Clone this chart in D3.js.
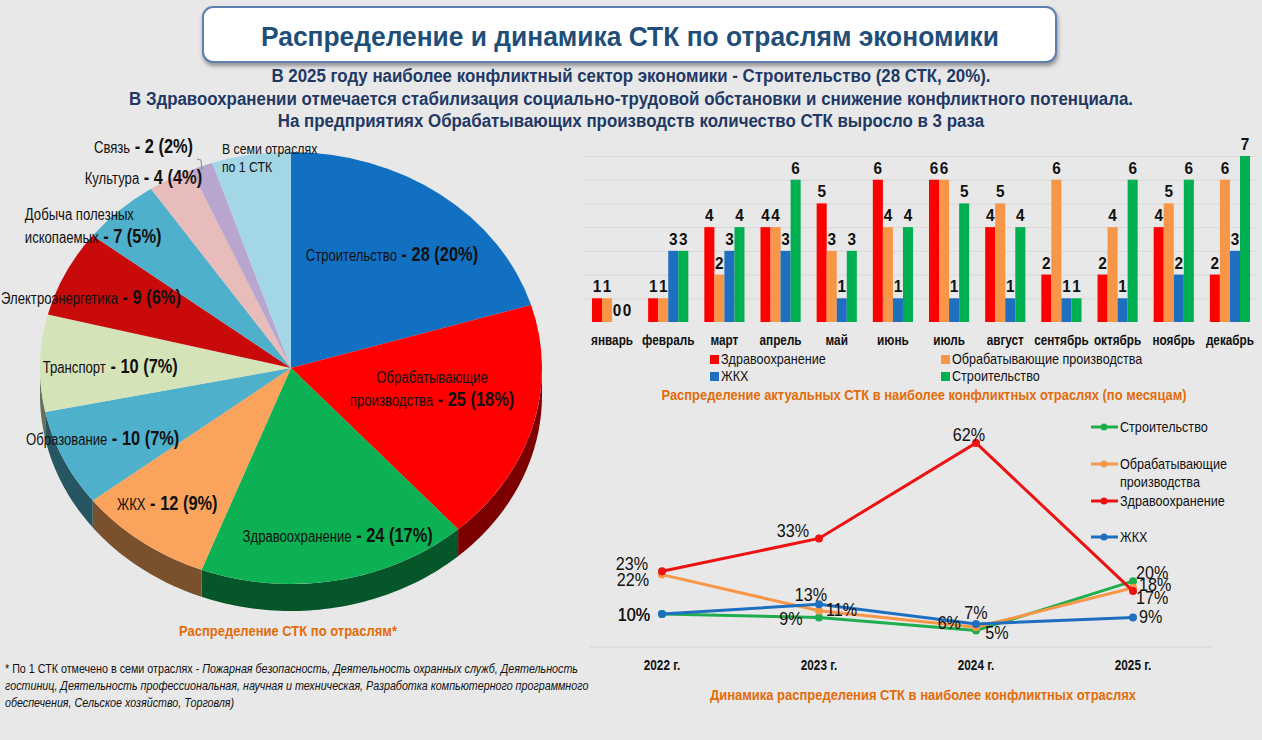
<!DOCTYPE html>
<html>
<head>
<meta charset="utf-8">
<script src="https://cdn.jsdelivr.net/npm/d3@7"></script>
<style>
body { margin: 0; background: #e8e8e8; }
svg { display: block; }
text { font-family: 'Liberation Sans', Arial, sans-serif; }
</style>
</head>
<body>
<svg id="chart" width="1262" height="740"></svg>
<script>
// ---- pie: distribution by sector
const pieCategories = ["Строительство", "Обрабатывающие производства", "Здравоохранение", "ЖКХ", "Образование",
    "Транспорт", "Электроэнергетика", "Добыча полезных ископаемых", "Культура", "Связь", "В семи отраслях по 1 СТК"];
const pieValues = [28, 25, 24, 12, 10, 10, 9, 7, 4, 2, 7];
const piePercents = [20, 18, 17, 9, 7, 7, 6, 5, 4, 2, null];
const pieColors = ["#1170c1", "#fe0000", "#0bb153", "#f9a35c", "#4fb0cb", "#d5e3b9", "#c80a0a", "#4fb0cb", "#e8bcbb", "#b9a6cf", "#a3d7e6"];

// ---- bars: by month
const months = ["январь", "февраль", "март", "апрель", "май", "июнь", "июль", "август", "сентябрь", "октябрь", "ноябрь", "декабрь"];
const barSeries = ["Здравоохранение", "Обрабатывающие производства", "ЖКХ", "Строительство"];
const barHealth = [1, 1, 4, 4, 5, 6, 6, 4, 2, 2, 4, 2];
const barManuf = [1, 1, 2, 4, 3, 4, 6, 5, 6, 4, 5, 6];
const barHousing = [0, 3, 3, 3, 1, 1, 1, 1, 1, 1, 2, 3];
const barConstruction = [0, 3, 4, 6, 3, 4, 5, 4, 1, 6, 6, 7];
const barColors = ["#ff0000", "#f79646", "#1f6fc0", "#00b050"];

// ---- lines: dynamics by year (%)
const years = ["2022 г.", "2023 г.", "2024 г.", "2025 г."];
const lineSeries = ["Строительство", "Обрабатывающие производства", "Здравоохранение", "ЖКХ"];
const lineConstruction = [10, 9, 5, 20];
const lineManuf = [22, 11, 6, 18];
const lineHealth = [23, 33, 62, 17];
const lineHousing = [10, 13, 7, 9];
const lineColors = ["#1fae4f", "#f79646", "#ee1111", "#1f6fc0"];

const svg = d3.select("#chart");
const ORANGE = "#e36c0a";

// squeeze glyphs horizontally (no narrow font installed)
function squeeze(sel, f) {
    sel.each(function () {
        const kids = this.querySelectorAll("tspan");
        const targets = kids.length ? Array.from(kids) : [this];
        targets.forEach(el => {
            const w = el.getComputedTextLength();
            el.setAttribute("textLength", w * f);
            el.setAttribute("lengthAdjust", "spacingAndGlyphs");
        });
    });
}
function fitWidth(sel, width) {
    const el = sel.node();
    const kids = el.querySelectorAll("tspan");
    const w = kids.length ? d3.sum(Array.from(kids), k => k.getComputedTextLength()) : el.getComputedTextLength();
    return width / w;
}

// background + header
svg.append("rect").attr("width", 1262).attr("height", 740).attr("fill", "#e8e8e8");
const defs = svg.append("defs");
const sh = defs.append("filter").attr("id", "shadow").attr("x", "-5%").attr("y", "-20%").attr("width", "110%").attr("height", "160%");
sh.append("feDropShadow").attr("dx", 1).attr("dy", 3).attr("stdDeviation", 2).attr("flood-color", "#555").attr("flood-opacity", 0.6);

svg.append("rect")
    .attr("x", 203).attr("y", 7).attr("width", 853).attr("height", 55).attr("rx", 10)
    .attr("fill", "#fff").attr("stroke", "#5b7fb0").attr("stroke-width", 2)
    .attr("filter", "url(#shadow)");
const title = svg.append("text")
    .attr("x", 630).attr("y", 46).attr("text-anchor", "middle")
    .attr("font-size", 27).attr("font-weight", "bold").attr("fill", "#1f4e79")
    .text("Распределение и динамика СТК по отраслям экономики");
squeeze(title, fitWidth(title, 738));

const subtitle = [
    "В 2025 году наиболее конфликтный сектор экономики - Строительство (28 СТК, 20%).",
    "В Здравоохранении отмечается стабилизация социально-трудовой обстановки и снижение конфликтного потенциала.",
    "На предприятиях Обрабатывающих производств количество СТК выросло в 3 раза"
];
const sub = svg.append("g").selectAll("text").data(subtitle).join("text")
    .attr("x", 631).attr("y", (d, i) => 82 + i * 22.5).attr("text-anchor", "middle")
    .attr("font-size", 18).attr("font-weight", "bold").attr("fill", "#1f3864")
    .text(d => d);
squeeze(sub, fitWidth(sub.filter((d, i) => i === 1), 1004));

// ================= PIE =================
const cx = 291, cy = 368, rx = 251, ry = 216, depth = 27;
const arcs = d3.pie().sort(null).value(d => d)(pieValues);
const pt = (a, dy = 0) => [cx + rx * Math.sin(a), cy - ry * Math.cos(a) + dy];

function sidePath(a0, a1) {
    const n = Math.max(2, Math.ceil((a1 - a0) / 0.02));
    const top = [], bot = [];
    for (let i = 0; i <= n; i++) {
        const a = a0 + (a1 - a0) * i / n;
        top.push(pt(a));
        bot.push(pt(a, depth));
    }
    bot.reverse();
    return "M" + top.concat(bot).map(p => p.join(",")).join("L") + "Z";
}

const pieG = svg.append("g");
pieG.selectAll("path.side").data(arcs.filter(d => d.endAngle > Math.PI / 2 && d.startAngle < Math.PI * 1.5))
    .join("path")
    .attr("class", "side")
    .attr("d", d => sidePath(Math.max(d.startAngle, Math.PI / 2), Math.min(d.endAngle, Math.PI * 1.5)))
    .attr("fill", d => d3.color(pieColors[d.index]).darker(2));

const arcGen = d3.arc().innerRadius(0).outerRadius(rx);
pieG.append("g")
    .attr("transform", `translate(${cx},${cy}) scale(1,${ry / rx})`)
    .selectAll("path").data(arcs).join("path")
    .attr("d", arcGen)
    .attr("fill", d => pieColors[d.index]);

// label placement: radius factor, angle shift (deg), anchor
const pieLabelPlace = [
    {k: 0.66, da: 1}, {k: 0.57, da: -6}, {k: 0.80, da: -3}, {k: 0.80, da: 1.5}, {k: 0.82, da: 1},
    {k: 0.72, da: -1}, {k: 0.86, da: -4}, {k: 1.25, da: -15, anchor: "start"}, {k: 1.06, da: -5},
    {k: 1.18, da: -9}, {k: 1.015, da: -6.6, anchor: "start"}
];
const pieLabelLines = [
    ["Строительство"], ["Обрабатывающие", "производства"], ["Здравоохранение"], ["ЖКХ"], ["Образование"],
    ["Транспорт"], ["Электроэнергетика"], ["Добыча полезных", "ископаемых"], ["Культура"], ["Связь"],
    ["В семи отраслях", "по 1 СТК"]
];
const labelG = svg.append("g");
arcs.forEach((d, i) => {
    const place = pieLabelPlace[i];
    const mid = (d.startAngle + d.endAngle) / 2 + place.da * Math.PI / 180;
    const x = cx + rx * place.k * Math.sin(mid);
    const y = cy - ry * place.k * Math.cos(mid);
    const lines = pieLabelLines[i];
    const lh = piePercents[i] === null ? 18 : 23;
    const y0 = y - (lines.length - 1) * lh / 2 + 6;
    const t = labelG.append("text").attr("text-anchor", place.anchor || "middle").attr("fill", "#111");
    lines.forEach((ln, j) => {
        t.append("tspan").attr("x", x).attr("y", y0 + j * lh)
            .attr("font-size", piePercents[i] === null ? 15 : 16).text(ln);
    });
    if (piePercents[i] !== null) {
        t.append("tspan").attr("font-size", 20).attr("font-weight", "bold")
            .text(` - ${pieValues[i]} (${piePercents[i]}%)`);
    }
    squeeze(t, 0.82);
});
// little leader for the tiny slice
labelG.append("path").attr("d", "M197,159 L201,160 L202,170").attr("fill", "none").attr("stroke", "#888").attr("stroke-width", 1);

const pieTitle = svg.append("text").attr("x", 288).attr("y", 636).attr("text-anchor", "middle")
    .attr("font-size", 15).attr("font-weight", "bold").attr("fill", ORANGE)
    .text("Распределение СТК по отраслям*");
squeeze(pieTitle, fitWidth(pieTitle, 218));

const foot = svg.append("text").attr("font-size", 13).attr("fill", "#111");
foot.append("tspan").attr("x", 5).attr("y", 673).text("* По 1 СТК отмечено в семи отраслях - ");
foot.append("tspan").attr("font-style", "italic").text("Пожарная безопасность, Деятельность охранных служб, Деятельность");
foot.append("tspan").attr("x", 5).attr("y", 690).attr("font-style", "italic")
    .text("гостиниц, Деятельность профессиональная, научная и техническая, Разработка компьютерного программного");
foot.append("tspan").attr("x", 5).attr("y", 707).attr("font-style", "italic")
    .text("обеспечения, Сельское хозяйство, Торговля)");
{
    const ts = foot.selectAll("tspan").nodes();
    const f = 573 / (ts[0].getComputedTextLength() + ts[1].getComputedTextLength());
    squeeze(foot, f);
}

// ================= BARS =================
const barData = [barHealth, barManuf, barHousing, barConstruction];
const x0 = d3.scaleBand().domain(months).range([584, 1258]).paddingInner(0.285).paddingOuter(0.142);
const x1 = d3.scaleBand().domain(d3.range(4)).range([0, x0.bandwidth()]);
const yB = d3.scaleLinear().domain([0, 7]).range([322, 156]);

svg.append("g").selectAll("line").data(d3.range(1, 8)).join("line")
    .attr("x1", 584).attr("x2", 1258)
    .attr("y1", d => yB(d) + 0.5).attr("y2", d => yB(d) + 0.5)
    .attr("stroke", "#d9d9d9").attr("stroke-width", 1);

const barG = svg.append("g");
months.forEach((m, mi) => {
    const g = barG.append("g").attr("transform", `translate(${x0(m)},0)`);
    const vals = barData.map(s => s[mi]);
    g.selectAll("rect").data(vals).join("rect")
        .attr("x", (d, i) => x1(i)).attr("width", x1.bandwidth())
        .attr("y", d => yB(d)).attr("height", d => yB(0) - yB(d))
        .attr("fill", (d, i) => barColors[i]);
    const lbl = g.selectAll("text").data(vals).join("text")
        .attr("x", (d, i) => x1(i) + x1.bandwidth() / 2)
        .attr("y", d => yB(d) - 6)
        .attr("text-anchor", "middle").attr("font-size", 17).attr("font-weight", "bold").attr("fill", "#111")
        .text(d => d);
    squeeze(lbl, 0.9);
});
const monthLbl = svg.append("g").selectAll("text").data(months).join("text")
    .attr("x", d => x0(d) + x0.bandwidth() / 2).attr("y", 345)
    .attr("text-anchor", "middle").attr("font-size", 14).attr("font-weight", "bold").attr("fill", "#111")
    .text(d => d);
squeeze(monthLbl, 0.84);

const barLegendPos = [[710, 355], [941, 355], [710, 372], [941, 372]];
const bl = svg.append("g").selectAll("g").data(barSeries).join("g")
    .attr("transform", (d, i) => `translate(${barLegendPos[i][0]},${barLegendPos[i][1]})`);
bl.append("rect").attr("width", 9).attr("height", 9).attr("fill", (d, i) => barColors[i]);
squeeze(bl.append("text").attr("x", 11).attr("y", 9).attr("font-size", 15).attr("fill", "#111").text(d => d), 0.84);

const barTitle = svg.append("text").attr("x", 924).attr("y", 400).attr("text-anchor", "middle")
    .attr("font-size", 15).attr("font-weight", "bold").attr("fill", ORANGE)
    .text("Распределение актуальных СТК в наиболее конфликтных отраслях (по месяцам)");
squeeze(barTitle, fitWidth(barTitle, 525));

// ================= LINES =================
const lineData = [lineConstruction, lineManuf, lineHealth, lineHousing];
const xL = d3.scalePoint().domain(years).range([662, 1133]);
const yL = d3.scaleLinear().domain([0, 62]).range([647, 443]);

svg.append("line").attr("x1", 590).attr("x2", 1211).attr("y1", yL(0)).attr("y2", yL(0))
    .attr("stroke", "#d2d2d2").attr("stroke-width", 1);
const yearLbl = svg.append("g").selectAll("text").data(years).join("text")
    .attr("x", d => xL(d)).attr("y", 670).attr("text-anchor", "middle")
    .attr("font-size", 14).attr("font-weight", "bold").attr("fill", "#111")
    .text(d => d);
squeeze(yearLbl, 0.84);

const line = d3.line().x((d, i) => xL(years[i])).y(d => yL(d));
const lineG = svg.append("g");
lineData.forEach((s, si) => {
    lineG.append("path").datum(s).attr("d", line)
        .attr("fill", "none").attr("stroke", lineColors[si]).attr("stroke-width", 3);
    lineG.selectAll(null).data(s).join("circle")
        .attr("cx", (d, i) => xL(years[i])).attr("cy", d => yL(d)).attr("r", 4)
        .attr("fill", lineColors[si]);
});

// label offsets [dx, dy, anchor] per series / point
const lineLabelPlace = [
    [[-12, 7, "end"], [-28, 8, "middle"], [21, 8, "middle"], [3, -2, "start"]],
    [[-13, 11, "end"], [7, 5, "start"], [-15, 2, "end"], [6, 3, "start"]],
    [[-14, -1, "end"], [-26, -1, "middle"], [-7, -2, "middle"], [3, 13, "start"]],
    [[-12, 7, "end"], [-8, -3, "middle"], [0, -5, "middle"], [6, 6, "start"]]
];
lineData.forEach((s, si) => {
    const t = lineG.selectAll(null).data(s).join("text")
        .attr("x", (d, i) => xL(years[i]) + lineLabelPlace[si][i][0])
        .attr("y", (d, i) => yL(d) + lineLabelPlace[si][i][1])
        .attr("text-anchor", (d, i) => lineLabelPlace[si][i][2])
        .attr("font-size", 19).attr("fill", "#111")
        .text(d => d + "%");
    squeeze(t, 0.85);
});

const lineLegendY = [427, 464, 501, 537];
const lineLegendLines = [["Строительство"], ["Обрабатывающие", "производства"], ["Здравоохранение"], ["ЖКХ"]];
const ll = svg.append("g").selectAll("g").data(lineSeries).join("g")
    .attr("transform", (d, i) => `translate(1091,${lineLegendY[i]})`);
ll.append("line").attr("x1", 0).attr("x2", 27).attr("stroke", (d, i) => lineColors[i]).attr("stroke-width", 3);
ll.append("circle").attr("cx", 13).attr("r", 3.5).attr("fill", (d, i) => lineColors[i]);
const llText = ll.append("text").attr("font-size", 15).attr("fill", "#111")
    .each(function (d, i) {
        lineLegendLines[i].forEach((t, j) => {
            d3.select(this).append("tspan").attr("x", 29).attr("y", 5 + j * 18).text(t);
        });
    });
squeeze(llText, 0.84);

const lineTitle = svg.append("text").attr("x", 923).attr("y", 700).attr("text-anchor", "middle")
    .attr("font-size", 15).attr("font-weight", "bold").attr("fill", ORANGE)
    .text("Динамика распределения СТК в наиболее конфликтных отраслях");
squeeze(lineTitle, fitWidth(lineTitle, 426));
</script>
</body>
</html>
